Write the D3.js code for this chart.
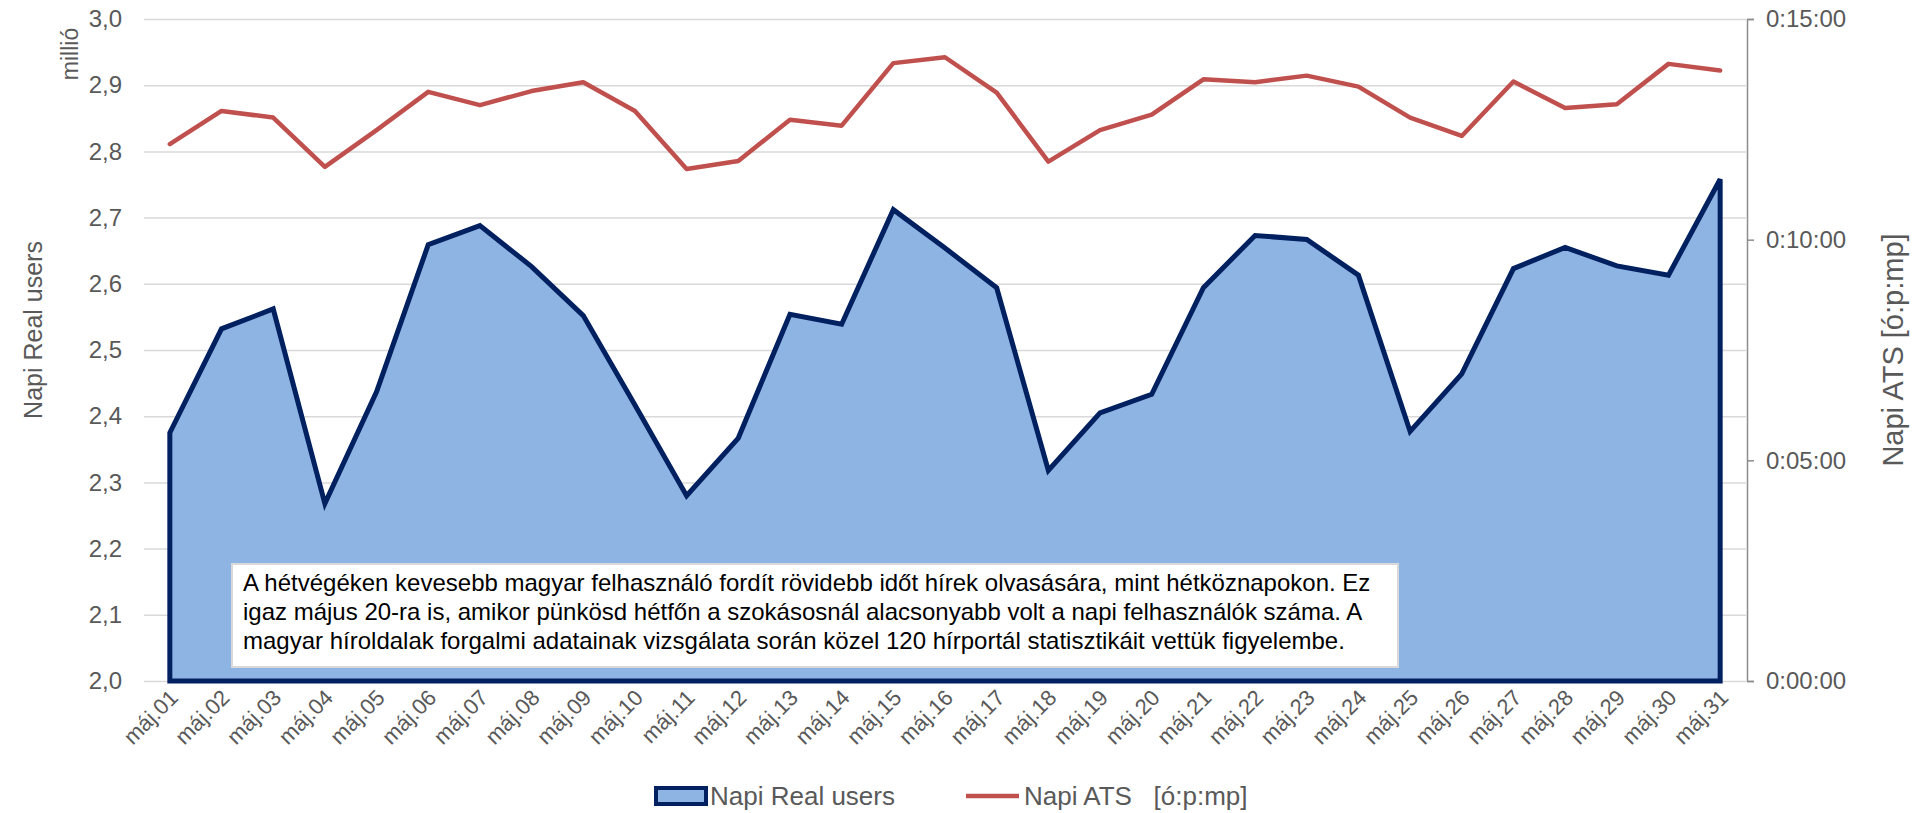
<!DOCTYPE html>
<html>
<head>
<meta charset="utf-8">
<script src="https://cdn.jsdelivr.net/npm/d3@7"></script>
<style>
  body { margin: 0; background: #fff; }
  svg text { font-family: "Liberation Sans", Arial, sans-serif; }
</style>
</head>
<body>
<div id="chart"></div>
<script>
// napok (máj. 1-31)
const days = ["máj.01","máj.02","máj.03","máj.04","máj.05","máj.06","máj.07","máj.08","máj.09","máj.10",
  "máj.11","máj.12","máj.13","máj.14","máj.15","máj.16","máj.17","máj.18","máj.19","máj.20",
  "máj.21","máj.22","máj.23","máj.24","máj.25","máj.26","máj.27","máj.28","máj.29","máj.30","máj.31"];

// Napi Real users (millió)
const realUsers = [2.375, 2.532, 2.562, 2.268, 2.437, 2.659, 2.688, 2.626, 2.552, 2.417,
  2.280, 2.367, 2.554, 2.539, 2.712, 2.654, 2.594, 2.318, 2.405, 2.433,
  2.594, 2.673, 2.667, 2.613, 2.377, 2.464, 2.623, 2.655, 2.627, 2.613, 2.758];

// Napi ATS (ó:p:mp)
const ats = ["0:12:10","0:12:55","0:12:46","0:11:39","0:12:29","0:13:21","0:13:03","0:13:22","0:13:34","0:12:55",
  "0:11:36","0:11:47","0:12:43","0:12:35","0:14:00","0:14:08","0:13:20","0:11:46","0:12:29","0:12:50",
  "0:13:38","0:13:34","0:13:43","0:13:28","0:12:46","0:12:21","0:13:35","0:12:59","0:13:04","0:13:59","0:13:50"];

const leftTicks = [2.0, 2.1, 2.2, 2.3, 2.4, 2.5, 2.6, 2.7, 2.8, 2.9, 3.0];
const rightTicks = ["0:00:00", "0:05:00", "0:10:00", "0:15:00"];

const note = [
  "A hétvégéken kevesebb magyar felhasználó fordít rövidebb időt hírek olvasására, mint hétköznapokon. Ez",
  "igaz május 20-ra is, amikor pünkösd hétfőn a szokásosnál alacsonyabb volt a napi felhasználók száma. A",
  "magyar híroldalak forgalmi adatainak vizsgálata során közel 120 hírportál statisztikáit vettük figyelembe."
];

const toSec = (s) => { const p = s.split(":").map(Number); return p[0] * 3600 + p[1] * 60 + p[2]; };
const fmtTime = (sec) => {
  const h = Math.floor(sec / 3600), m = Math.floor((sec % 3600) / 60), s = sec % 60;
  return h + ":" + String(m).padStart(2, "0") + ":" + String(s).padStart(2, "0");
};
const huFormat = d3.formatLocale({ decimal: ",", thousands: " ", grouping: [3], currency: ["", " Ft"] }).format(".1f");

const data = days.map((d, i) => ({ day: d, users: realUsers[i], ats: toSec(ats[i]) }));

const totalWidth = 1915, totalHeight = 813;
const margin = { top: 19, right: 169, bottom: 132, left: 144 },
  width = totalWidth - margin.left - margin.right,
  height = totalHeight - margin.top - margin.bottom;

const svg = d3.select("#chart")
  .append("svg")
  .attr("width", totalWidth)
  .attr("height", totalHeight);

const g = svg.append("g")
  .attr("transform", "translate(" + margin.left + "," + margin.top + ")");

const x = d3.scalePoint().domain(days).range([0, width]).padding(0.5);
const y = d3.scaleLinear().domain([2.0, 3.0]).range([height, 0]);
const y2 = d3.scaleLinear().domain([0, toSec("0:15:00")]).range([height, 0]);

// bal tengely + rácsvonalak
const yAxis = g.append("g")
  .call(d3.axisLeft(y).tickValues(leftTicks).tickFormat(huFormat).tickSize(-width).tickPadding(22));
yAxis.select(".domain").remove();
yAxis.selectAll(".tick line").attr("stroke", "#d9d9d9").attr("stroke-width", 1.5);
yAxis.selectAll(".tick text").attr("fill", "#595959").attr("font-size", 24);

// jobb tengely
const y2Axis = g.append("g")
  .attr("transform", "translate(" + (width + 1) + ",0)")
  .call(d3.axisRight(y2).tickValues(rightTicks.map(toSec)).tickFormat(fmtTime).tickSize(7).tickPadding(12));
y2Axis.select(".domain").attr("stroke", "#8c8c8c").attr("stroke-width", 1.5);
y2Axis.selectAll(".tick line").attr("stroke", "#8c8c8c").attr("stroke-width", 1.5);
y2Axis.selectAll(".tick text").attr("fill", "#595959").attr("font-size", 24);

// terület (Napi Real users)
const area = d3.area()
  .x((d) => x(d.day))
  .y0(y(2.0))
  .y1((d) => y(d.users));

g.append("path")
  .datum(data)
  .attr("fill", "#8eb4e3")
  .attr("stroke", "#002060")
  .attr("stroke-width", 5)
  .attr("stroke-linejoin", "miter")
  .attr("d", area);

// vonal (Napi ATS)
const line = d3.line()
  .x((d) => x(d.day))
  .y((d) => y2(d.ats));

g.append("path")
  .datum(data)
  .attr("fill", "none")
  .attr("stroke", "#c0504d")
  .attr("stroke-width", 4.5)
  .attr("stroke-linejoin", "round")
  .attr("stroke-linecap", "round")
  .attr("d", line);

// x tengely feliratai
const xAxis = g.append("g")
  .attr("transform", "translate(0," + height + ")")
  .call(d3.axisBottom(x).tickSize(0).tickPadding(0));
xAxis.select(".domain").remove();
xAxis.selectAll(".tick text")
  .attr("fill", "#595959")
  .attr("font-size", 22)
  .attr("text-anchor", "end")
  .attr("dy", 0)
  .attr("transform", "translate(9,18) rotate(-45)");

// megjegyzés doboz
const box = g.append("g").attr("transform", "translate(" + (232 - margin.left) + "," + (564 - margin.top) + ")");
box.append("rect")
  .attr("width", 1166)
  .attr("height", 103)
  .attr("fill", "#fff")
  .attr("stroke", "#d9d9d9")
  .attr("stroke-width", 2);
box.selectAll("text")
  .data(note)
  .join("text")
  .attr("x", 11)
  .attr("y", (d, i) => 27 + i * 29)
  .attr("font-size", 24)
  .attr("fill", "#000")
  .text((d) => d);

// tengelycímek
svg.append("text")
  .attr("transform", "translate(33,330) rotate(-90)")
  .attr("text-anchor", "middle")
  .attr("dy", "0.35em")
  .attr("font-size", 25)
  .attr("fill", "#595959")
  .text("Napi Real users");

svg.append("text")
  .attr("transform", "translate(70,54) rotate(-90)")
  .attr("text-anchor", "middle")
  .attr("dy", "0.35em")
  .attr("font-size", 23)
  .attr("fill", "#595959")
  .text("millió");

svg.append("text")
  .attr("transform", "translate(1893,350) rotate(-90)")
  .attr("text-anchor", "middle")
  .attr("dy", "0.35em")
  .attr("font-size", 29)
  .attr("fill", "#595959")
  .text("Napi ATS [ó:p:mp]");

// jelmagyarázat
const legend = svg.append("g").attr("transform", "translate(0,796)");
legend.append("rect")
  .attr("x", 656).attr("y", -8).attr("width", 50).attr("height", 16)
  .attr("fill", "#8eb4e3").attr("stroke", "#002060").attr("stroke-width", 4);
legend.append("text")
  .attr("x", 710).attr("dy", "0.35em")
  .attr("font-size", 26).attr("fill", "#595959")
  .text("Napi Real users");
legend.append("line")
  .attr("x1", 966).attr("x2", 1019)
  .attr("stroke", "#c0504d").attr("stroke-width", 4.5);
legend.append("text")
  .attr("x", 1024).attr("dy", "0.35em")
  .attr("font-size", 26).attr("fill", "#595959")
  .style("white-space", "pre")
  .text("Napi ATS   [ó:p:mp]");
</script>
</body>
</html>
